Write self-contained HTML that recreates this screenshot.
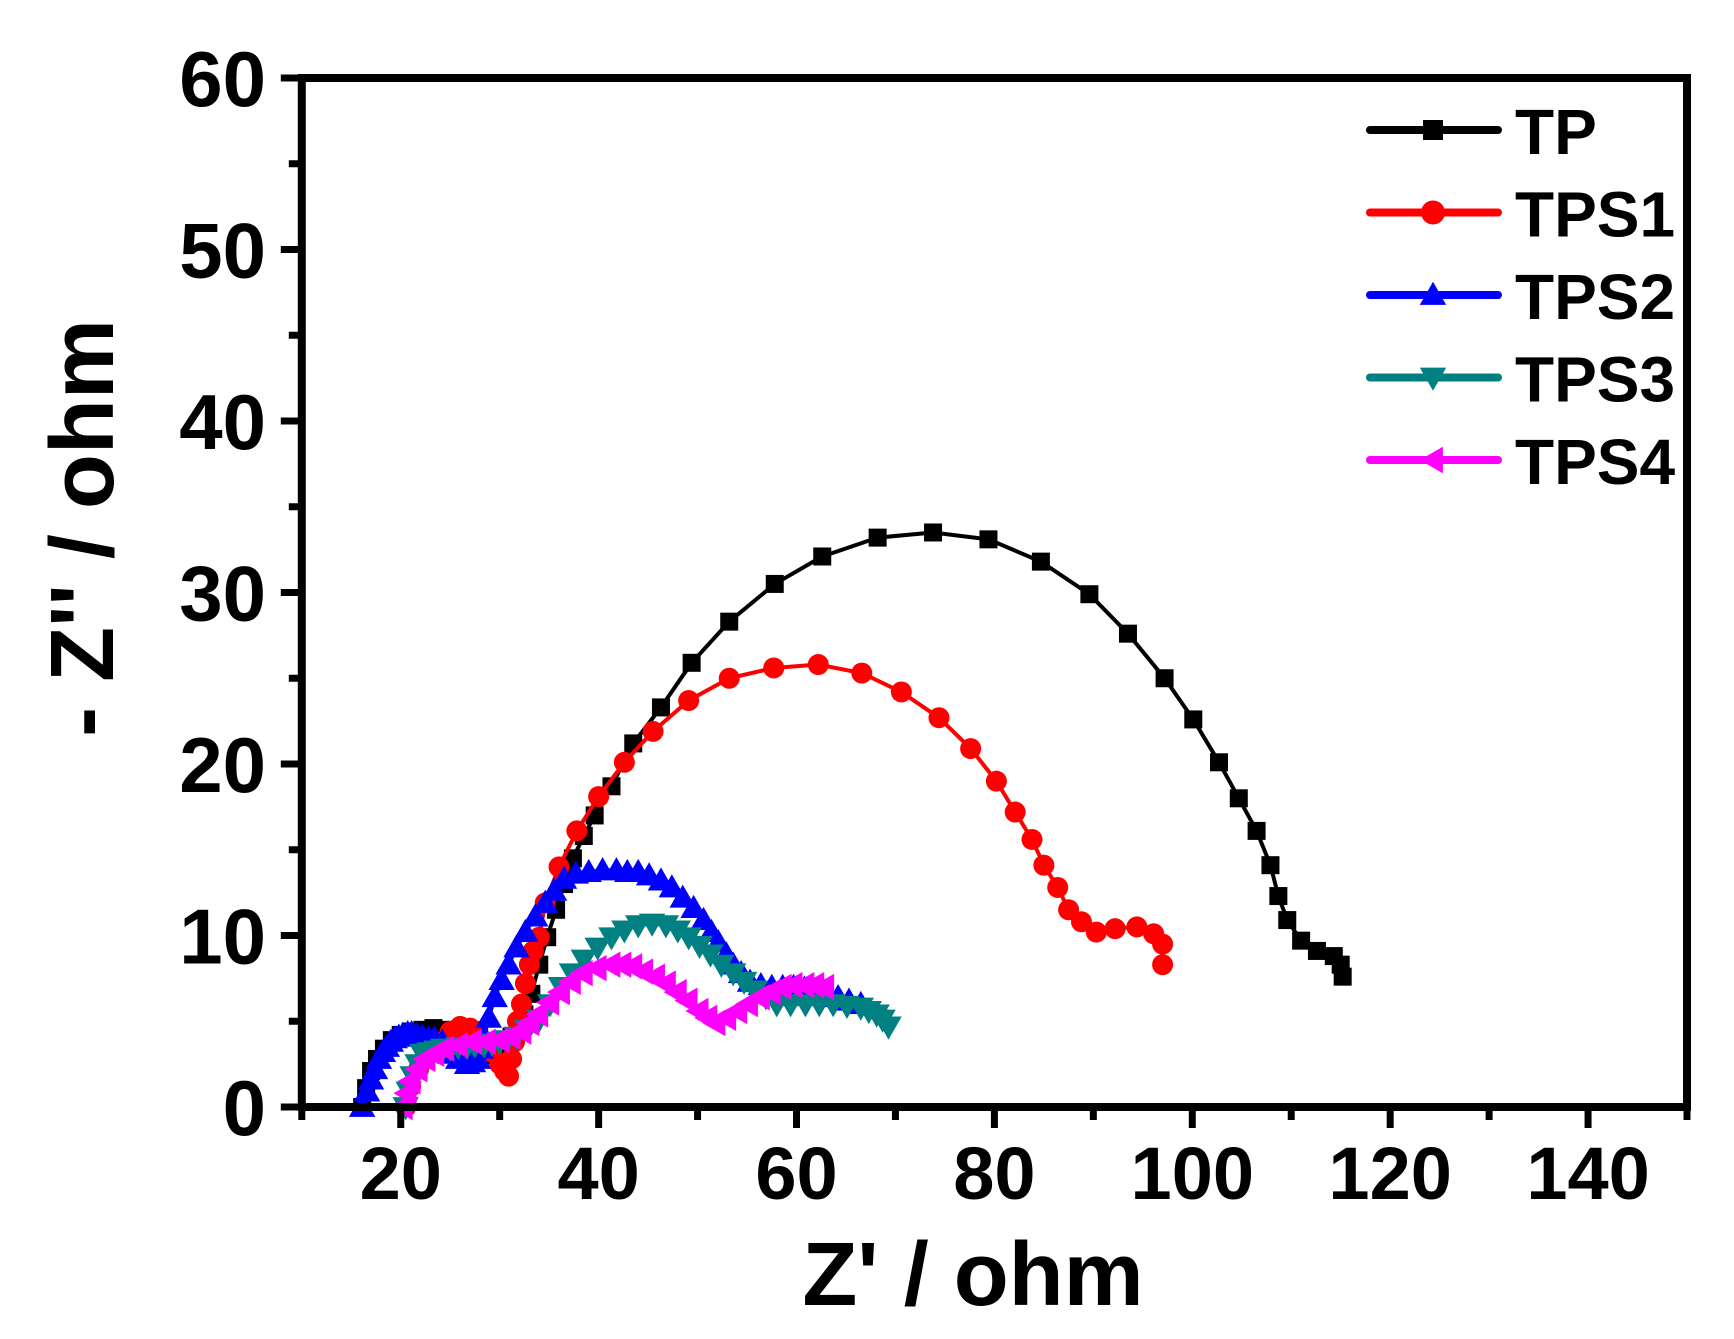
<!DOCTYPE html>
<html><head><meta charset="utf-8"><style>
html,body{margin:0;padding:0;background:#fff;}
svg{display:block;font-family:"Liberation Sans",Arial,sans-serif;font-weight:bold;}
</style></head><body>
<svg id="chart" width="1734" height="1339" viewBox="0 0 1734 1339" xmlns="http://www.w3.org/2000/svg">
<rect x="0" y="0" width="1734" height="1339" fill="#fff"/>
<g id="series"></g>
<g id="axes"></g>
<g id="legend"></g>
<text x="973" y="1305" font-size="90" text-anchor="middle">Z' / ohm</text>
<text transform="translate(113,528) rotate(-90)" font-size="90" text-anchor="middle">- Z'' / ohm</text>
</svg>
<script>
const xTickLabels = [20,40,60,80,100,120,140];
const yTickLabels = [0,10,20,30,40,50,60];
const seriesNames = ["TP","TPS1","TPS2","TPS3","TPS4"];
const tpX = [16.1,16.5,17,17.6,18.3,19.1,20,21,22.2,23.3,24.5,25.4,26.2,27,27.5,28.3,29,29.8,30.5,31.2,31.8,32.5,33.2,34,34.8,35.7,36.5,37.4,38.5,39.6,41.3,43.5,46.3,49.4,53.2,57.8,62.6,68.2,73.8,79.4,84.7,89.6,93.5,97.2,100.1,102.7,104.7,106.5,107.9,108.7,109.6,111,112.6,114.3,115,115.2];
const tpY = [0,1.1,2.1,2.8,3.4,3.9,4.2,4.4,4.5,4.6,4.5,4.4,4.1,3.6,3.0,3.0,3.2,3.5,3.8,4.1,4.4,5.4,6.6,8.3,9.9,11.5,13,14.5,15.8,17,18.7,21.2,23.3,25.9,28.3,30.5,32.1,33.2,33.5,33.1,31.8,29.9,27.6,25.0,22.6,20.1,18.0,16.1,14.1,12.3,10.9,9.7,9.1,8.8,8.3,7.6];
const tps1X = [20.5,21,21.8,22.5,23.6,25,26,27,27.8,28.4,29.2,30,30.5,30.9,31.2,31.5,31.8,32.2,32.6,33,33.4,34,34.6,36,37.8,40,42.6,45.5,49.1,53.2,57.7,62.2,66.6,70.6,74.4,77.6,80.2,82.1,83.8,85,86.4,87.5,88.8,90.3,92.2,94.4,96.1,97,97];
const tps1Y = [0,1.2,2.2,3.1,3.8,4.4,4.7,4.6,4.4,3.8,3.2,2.5,2.1,1.8,2.8,3.8,5,6,7.2,8.3,9.1,9.9,11.9,14,16.1,18.1,20.1,21.9,23.7,25,25.6,25.8,25.3,24.2,22.7,20.9,19,17.2,15.6,14.1,12.8,11.5,10.8,10.2,10.4,10.5,10.1,9.5,8.3];
const tps2X = [16.1,16.6,17,17.4,17.8,18.2,18.6,19,19.4,19.8,20.2,20.7,21.1,21.6,22.2,22.8,23.4,24.2,25,25.8,26.7,27.3,27.8,28.1,28.4,28.9,29.5,30.2,30.9,31.7,32.6,33.6,34.6,35.5,36.5,37.7,39,40.4,41.8,42.9,44,45.1,46.3,47.4,48.5,49.6,50.6,51.4,52.1,52.9,53.6,54.4,55.3,56.4,57.5,58.6,59.7,60.8,62,63.1,64.2,65.3,66.5];
const tps2Y = [0,0.9,1.6,2.2,2.8,3.2,3.5,3.8,4.0,4.1,4.2,4.3,4.3,4.2,4.1,4.0,4.0,3.8,3.1,2.8,2.5,2.6,2.8,3.4,4.1,5.2,6.4,7.4,8.3,9.3,10.2,11.1,11.9,12.6,13.3,13.6,13.7,13.8,13.8,13.7,13.7,13.5,13.2,12.8,12.2,11.6,10.9,10.2,9.6,8.9,8.3,7.8,7.3,7.1,7.0,7.0,7.0,6.9,6.8,6.6,6.4,6.2,6.0];
const tps3X = [20.5,20.8,21.2,21.7,22.2,22.9,23.6,24.3,25,25.8,26.7,27.5,28.4,29.2,30,30.8,31.7,32.8,34,35.1,36.2,37.3,38.5,39.9,41.3,42.6,44,45.4,46.8,48,49.1,50.2,51.3,52.4,53.6,54.7,55.8,56.9,58,59.4,60.9,62.3,63.7,65.1,66.5,67.3,68.1,68.7,69.3];
const tps3Y = [0,0.9,1.8,2.5,3.1,3.2,3.3,3.4,3.4,3.5,3.5,3.6,3.6,3.7,3.8,3.9,4.1,4.5,5.1,6.0,7.0,7.8,8.6,9.3,9.9,10.3,10.6,10.7,10.6,10.3,9.9,9.4,8.9,8.3,7.8,7.3,6.8,6.4,6.0,6.0,6.0,6.0,6.0,5.9,5.8,5.6,5.4,5.1,4.7];
const tps4X = [20.2,20.6,21,21.7,22.5,23.4,24.4,25.8,27.2,28.6,30,31.1,32.2,33,33.9,35,36.1,37.2,38.4,39.8,41.2,42.3,43.4,44.5,45.7,46.8,47.9,49,50.1,51,51.8,52.9,54,55.1,56.3,57.4,58.5,59.6,60.8,61.8,62.8];
const tps4Y = [0,0.8,1.5,2.2,2.8,3.1,3.4,3.6,3.8,3.8,3.9,4.1,4.4,4.9,5.4,6.1,6.7,7.3,7.8,8.1,8.3,8.3,8.2,7.9,7.6,7.2,6.7,6.2,5.6,5.2,4.9,5.2,5.6,6.0,6.4,6.7,7.0,7.1,7.1,7.1,7.0];

const NS="http://www.w3.org/2000/svg";
const X0=301.8,X1=1687,Y0=1107,Y1=78,XMIN=10,XMAX=150,YMIN=0,YMAX=60;
function sx(v){return X0+(v-XMIN)/(XMAX-XMIN)*(X1-X0);}
function sy(v){return Y0-(v-YMIN)/(YMAX-YMIN)*(Y0-Y1);}
function mk(tag,attrs,parent){const e=document.createElementNS(NS,tag);for(const k in attrs)e.setAttribute(k,attrs[k]);parent.appendChild(e);return e;}

function marker(shape,x,y,s,color,parent){
  let e;
  if(shape==="square"){e=mk("rect",{x:x-s/2,y:y-s/2,width:s,height:s,fill:color},parent);}
  else if(shape==="circle"){e=mk("circle",{cx:x,cy:y,r:s/2+1,fill:color},parent);}
  else if(shape==="up"){e=mk("polygon",{points:`${x},${y-s*0.6} ${x-s*0.6},${y+s*0.45} ${x+s*0.6},${y+s*0.45}`,fill:color},parent);}
  else if(shape==="down"){e=mk("polygon",{points:`${x},${y+s*0.6} ${x-s*0.6},${y-s*0.45} ${x+s*0.6},${y-s*0.45}`,fill:color},parent);}
  else {e=mk("polygon",{points:`${x-s*0.6},${y} ${x+s*0.45},${y-s*0.6} ${x+s*0.45},${y+s*0.6}`,fill:color},parent);}
  return e;
}

const seriesDefs=[
  {xs:tpX,ys:tpY,color:"#000000",shape:"square",size:18},
  {xs:tps1X,ys:tps1Y,color:"#ff0000",shape:"circle",size:19},
  {xs:tps2X,ys:tps2Y,color:"#0000ff",shape:"up",size:22},
  {xs:tps3X,ys:tps3Y,color:"#008080",shape:"down",size:22},
  {xs:tps4X,ys:tps4Y,color:"#ff00ff",shape:"left",size:22}
];
const sg=document.getElementById("series");
seriesDefs.forEach((d,i)=>{
  const g=mk("g",{},sg);
  
  
  const pts=d.xs.map((x,j)=>sx(x)+","+sy(d.ys[j])).join(" ");
  const pl=mk("polyline",{points:pts,fill:"none",stroke:d.color,"stroke-width":4,"stroke-linejoin":"round"},g);
  
  
  d.xs.forEach((x,j)=>{
    const m=marker(d.shape,sx(x),sy(d.ys[j]),d.size,d.color,g);
    
    
  });
});

const ag=document.getElementById("axes");
const frame=mk("rect",{x:X0,y:Y1,width:X1-X0,height:Y0-Y1,fill:"none",stroke:"#000","stroke-width":8},ag);


for(let v=XMIN;v<=XMAX;v+=10){
  const major=(v%20===0);
  const t=mk("line",{x1:sx(v),y1:Y0,x2:sx(v),y2:Y0+(major?21:13),stroke:"#000","stroke-width":7},ag);
  
  
}
xTickLabels.forEach(v=>{
  const t=mk("text",{x:sx(v),y:1199,"font-size":74,"text-anchor":"middle"},ag);
  t.textContent=v;
  
  
});
for(let v=YMIN;v<=YMAX;v+=5){
  const major=(v%10===0);
  const t=mk("line",{x1:X0,y1:sy(v),x2:X0-(major?21:13),y2:sy(v),stroke:"#000","stroke-width":7},ag);
  
  
}
yTickLabels.forEach(v=>{
  const t=mk("text",{x:266,y:sy(v)+28,"font-size":78,"text-anchor":"end"},ag);
  t.textContent=v;
  
  
});

const lg=document.getElementById("legend");
seriesDefs.forEach((d,i)=>{
  const y=130+i*82.5;
  const g=mk("g",{},lg);
  
  
  mk("line",{x1:1370,y1:y,x2:1498,y2:y,stroke:d.color,"stroke-width":8,"stroke-linecap":"round"},g);
  marker(d.shape,1433,y,d.shape==="square"?20:22,d.color,g);
  const t=mk("text",{x:1515,y:y+24,"font-size":64},g);
  t.textContent=seriesNames[i];
});
</script>
</body></html>
